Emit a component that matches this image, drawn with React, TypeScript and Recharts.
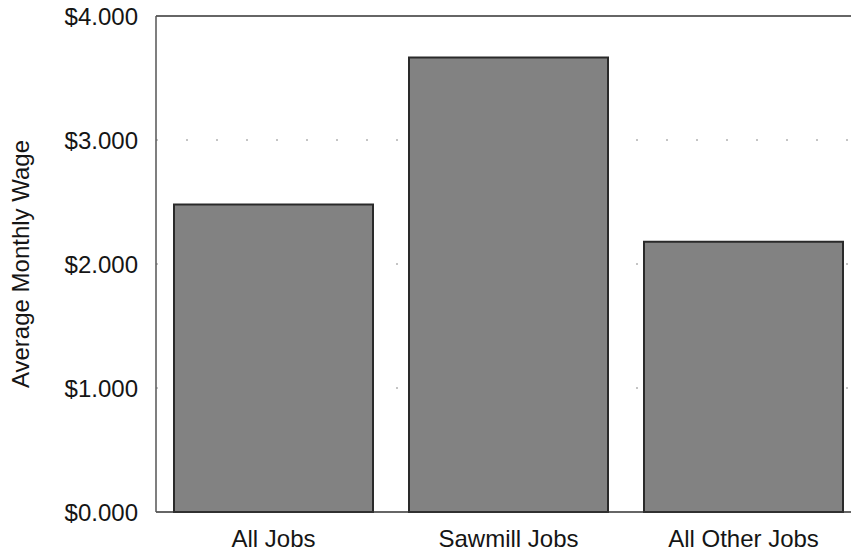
import { BarChart, Bar, XAxis, YAxis, CartesianGrid, ReferenceLine } from "recharts";

const categories = ["All Jobs", "Sawmill Jobs", "All Other Jobs"];
const wages = [2480, 3665, 2180];
const yTicks = [0, 1000, 2000, 3000, 4000];

const data = categories.map((name, i) => ({ name, wage: wages[i] }));

const FONT = "'Liberation Sans', Arial, Helvetica, sans-serif";
const TEXT = "#151515";

function fmtWage(v: number) {
  return `$${(v / 1000).toFixed(3)}`;
}

// rotated axis title, centred on the plot height
function WageLabel(props: any) {
  const vb = props.viewBox ?? { y: 16, height: 496 };
  const cy = vb.y + vb.height / 2;
  return (
    <text
      x={20}
      y={cy}
      transform={`rotate(-90, 20, ${cy})`}
      textAnchor="middle"
      dominantBaseline="central"
      fontSize={24}
      fontFamily={FONT}
      fill={TEXT}
    >
      Average Monthly Wage
    </text>
  );
}

export default function App() {
  return (
    <div
      style={{
        position: "absolute",
        left: 0,
        top: 0,
        width: 851,
        height: 552,
        overflow: "hidden",
        background: "#fff",
        fontFamily: FONT,
      }}
    >
      <BarChart
        width={870}
        height={552}
        data={data}
        margin={{ top: 16, right: 9, left: 0, bottom: 10 }}
        barCategoryGap={18}
      >
        <CartesianGrid
          vertical={false}
          horizontalValues={[1000, 2000, 3000]}
          stroke="#8a8a8a"
          strokeDasharray="2 28"
        />
        <XAxis
          dataKey="name"
          height={30}
          tickLine={false}
          axisLine={{ stroke: "#333", strokeWidth: 1.5 }}
          tick={{ fontSize: 24, fill: TEXT, fontFamily: FONT }}
          tickMargin={12}
        />
        <YAxis
          width={156}
          domain={[0, 4000]}
          ticks={yTicks}
          tickFormatter={fmtWage}
          tickLine={false}
          axisLine={{ stroke: "#555", strokeWidth: 1.5 }}
          tick={{ fontSize: 24, fill: TEXT, fontFamily: FONT }}
          tickMargin={12}
          label={<WageLabel />}
        />
        <ReferenceLine y={4000} stroke="#333" strokeWidth={1.5} />
        <Bar
          dataKey="wage"
          fill="#828282"
          stroke="#2a2a2a"
          strokeWidth={2}
          isAnimationActive={false}
        />
      </BarChart>
    </div>
  );
}
